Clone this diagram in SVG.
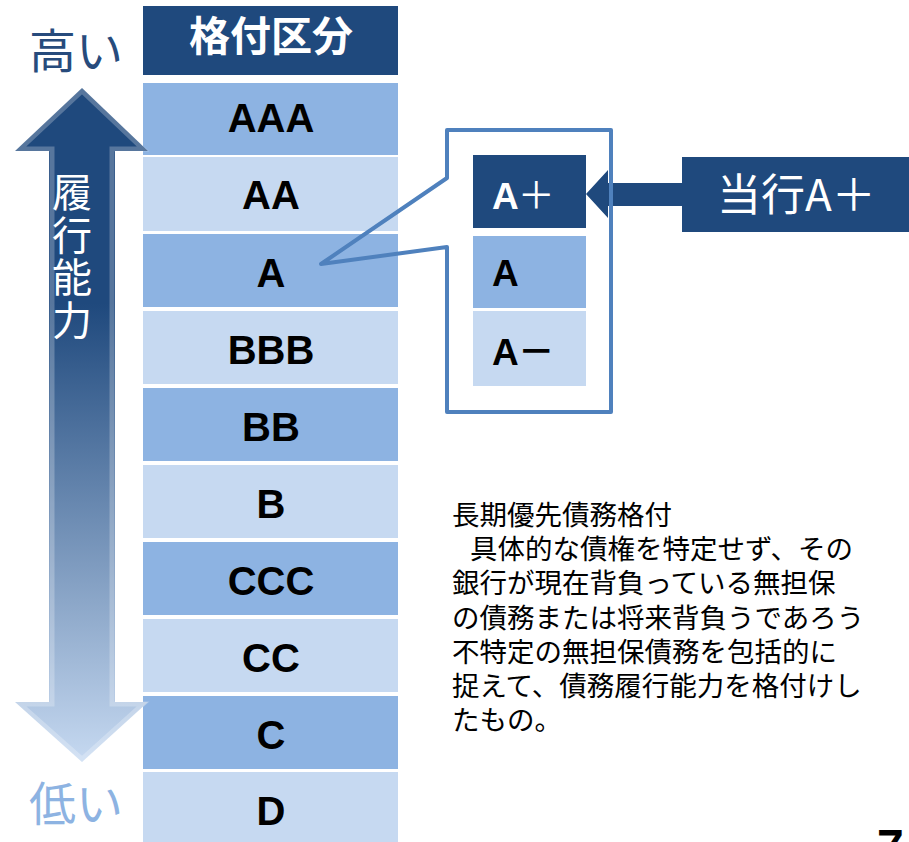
<svg xmlns="http://www.w3.org/2000/svg" width="909" height="842" viewBox="0 0 909 842">
<defs>
<linearGradient id="arrowGrad" gradientUnits="userSpaceOnUse" x1="0" y1="88" x2="0" y2="762">
<stop offset="0" stop-color="#1F497D"/>
<stop offset="0.32" stop-color="#1F497D"/>
<stop offset="1" stop-color="#C6D9F1"/>
</linearGradient>
<style>
.dark{fill:#8DB3E2}
.light{fill:#C6D9F1}
.navy{fill:#1F497D}
.rl{font-family:"Liberation Sans",Arial,sans-serif;font-weight:bold;font-size:40px;fill:#000;text-anchor:middle}
.jp{font-family:"Noto Sans CJK JP","Noto Sans CJK SC",sans-serif}
.para{font-family:"Noto Sans CJK JP","Noto Sans CJK SC",sans-serif;font-size:27.5px;fill:#000}
.sub{font-family:"Liberation Sans","Noto Sans CJK JP",sans-serif;font-weight:bold;font-size:37px}
.callout{fill:none;stroke:#4F81BD;stroke-width:4;stroke-linejoin:round}
</style>
</defs>
<rect width="909" height="842" fill="#fff"/>

<g id="header">
<rect x="143" y="6" width="255" height="69" class="navy"/>
<text x="271" y="51" class="jp" font-size="41" font-weight="bold" fill="#fff" text-anchor="middle">格付区分</text>
</g>

<g id="rating-AAA"><rect x="143" y="83" width="255" height="72" class="dark"/><text x="271" y="132" class="rl">AAA</text></g>
<g id="rating-AA"><rect x="143" y="157" width="255" height="74" class="light"/><text x="271" y="209" class="rl">AA</text></g>
<g id="rating-A"><rect x="143" y="234" width="255" height="73" class="dark"/><text x="271" y="287" class="rl">A</text></g>
<g id="rating-BBB"><rect x="143" y="311" width="255" height="73" class="light"/><text x="271" y="364" class="rl">BBB</text></g>
<g id="rating-BB"><rect x="143" y="388" width="255" height="73" class="dark"/><text x="271" y="441" class="rl">BB</text></g>
<g id="rating-B"><rect x="143" y="465" width="255" height="73" class="light"/><text x="271" y="518" class="rl">B</text></g>
<g id="rating-CCC"><rect x="143" y="542" width="255" height="73" class="dark"/><text x="271" y="595" class="rl">CCC</text></g>
<g id="rating-CC"><rect x="143" y="619" width="255" height="73" class="light"/><text x="271" y="672" class="rl">CC</text></g>
<g id="rating-C"><rect x="143" y="696" width="255" height="73" class="dark"/><text x="271" y="749" class="rl">C</text></g>
<g id="rating-D"><rect x="143" y="772" width="255" height="70" class="light"/><text x="271" y="825" class="rl">D</text></g>

<g id="high-label">
<text x="29" y="68" class="jp" font-size="47" fill="#274B7C">高い</text>
</g>
<g id="low-label">
<text x="29" y="821" class="jp" font-size="47" fill="#8DB3E2">低い</text>
</g>

<g id="capacity-arrow">
<polygon points="82,88 148,151 115,151 115,702 148,702 82,762 15,702 49,702 49,151 15,151" fill="url(#arrowGrad)"/>
<polygon points="82,91 143,149 112,149 112,704 143,704 82,759 20,704 52,704 52,149 20,149" fill="none" stroke="#ffffff" stroke-opacity="0.25" stroke-width="5"/>
<text x="72" y="172" class="jp" font-size="40" fill="#fff" writing-mode="tb" letter-spacing="2.5">履行能力</text>
</g>

<g id="sub-Aplus">
<rect x="473" y="155" width="113" height="73" class="navy"/>
<text x="492" y="209" class="sub" fill="#fff">A<tspan class="jp" font-weight="normal" dx="-1">＋</tspan></text>
</g>
<g id="sub-A">
<rect x="473" y="236" width="113" height="72" class="dark"/>
<text x="492" y="286" class="sub" fill="#000">A</text>
</g>
<g id="sub-Aminus">
<rect x="473" y="311" width="113" height="75" class="light"/>
<text x="492" y="365" class="sub" fill="#000">A<tspan class="jp" dx="-1">－</tspan></text>
</g>

<g id="bank-label">
<rect x="682" y="157" width="227" height="75" class="navy"/>
<text x="717" y="211" class="jp" font-size="44" fill="#fff">当行A＋</text>
</g>

<g id="connectors">
<polygon id="bank-arrow" points="586,194 608,170 608,183 683,183 683,206 608,206 608,218" class="navy"/>
<path id="callout" class="callout" d="M447,130 L611,130 L611,412 L447,412 L447,247 L321,264 L447,178 Z"/>
</g>

<g id="description">
<text class="para" x="452" y="525">長期優先債務格付<tspan x="470" dy="34.2">具体的な債権を特定せず、その</tspan><tspan x="452" dy="34.2">銀行が現在背負っている無担保</tspan><tspan x="452" dy="34.2">の債務または将来背負うであろう</tspan><tspan x="452" dy="34.2">不特定の無担保債務を包括的に</tspan><tspan x="452" dy="34.2">捉えて、債務履行能力を格付けし</tspan><tspan x="452" dy="34.2">たもの。</tspan></text>
</g>

<g id="page-number">
<text x="877" y="863" font-family="Liberation Sans,Arial,sans-serif" font-weight="bold" font-size="48" fill="#000">7</text>
</g>
</svg>
